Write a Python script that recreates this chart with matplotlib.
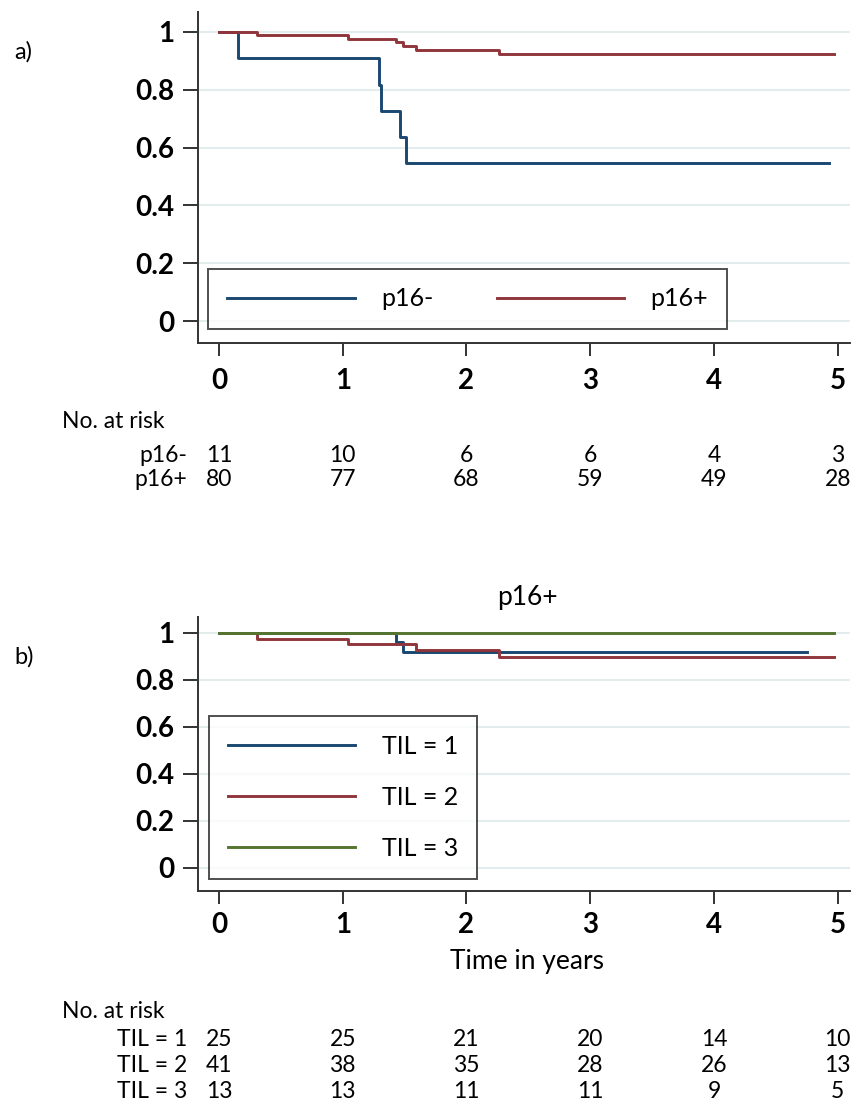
import matplotlib
matplotlib.use("Agg")
import matplotlib.pyplot as plt
from matplotlib.transforms import blended_transform_factory

plt.rcParams['font.family'] = ['Lato', 'DejaVu Sans']

# a) p16 status
p16neg_t = [0, 0.15, 1.29, 1.31, 1.46, 1.51, 4.93]
p16neg_s = [1, 0.909, 0.818, 0.727, 0.636, 0.545, 0.545]
p16pos_t = [0, 0.31, 1.04, 1.43, 1.49, 1.59, 2.26, 4.97]
p16pos_s = [1, 0.988, 0.976, 0.964, 0.952, 0.937, 0.922, 0.922]

# b) TIL within p16+
til1_t = [0, 1.43, 1.49, 4.75]
til1_s = [1, 0.96, 0.92, 0.92]
til2_t = [0, 0.31, 1.04, 1.59, 2.26, 4.97]
til2_s = [1, 0.976, 0.951, 0.927, 0.898, 0.898]
til3_t = [0, 4.97]
til3_s = [1, 1]

risk_times = [0, 1, 2, 3, 4, 5]
risk_a_labels = ['p16-', 'p16+']
risk_a = [[11, 10, 6, 6, 4, 3],
          [80, 77, 68, 59, 49, 28]]
risk_b_labels = ['TIL = 1', 'TIL = 2', 'TIL = 3']
risk_b = [[25, 25, 21, 20, 14, 10],
          [41, 38, 35, 28, 26, 13],
          [13, 13, 11, 11, 9, 5]]

navy = '#1a476f'
maroon = '#90353b'
green = '#55752f'
grid_c = '#e3edee'

W, H = 854, 1107
fig = plt.figure(figsize=(W / 100, H / 100), dpi=100)


def px_axes(left, top, right, bottom):
    return fig.add_axes([left / W, 1 - bottom / H, (right - left) / W, (bottom - top) / H])


def style(ax, ylo, yhi, xpad):
    ax.set_xlim(-0.17, 5.1)
    ax.set_ylim(ylo, yhi)
    for s in ['top', 'right']:
        ax.spines[s].set_visible(False)
    for s in ['left', 'bottom']:
        ax.spines[s].set_linewidth(1.4)
        ax.spines[s].set_color('#333333')
    ax.set_yticks([0, 0.2, 0.4, 0.6, 0.8, 1])
    ax.set_yticklabels(['0', '0.2', '0.4', '0.6', '0.8', '1'])
    ax.set_xticks(risk_times)
    ax.tick_params(axis='both', width=1.4, color='#333333', labelsize=20)
    ax.tick_params(axis='y', length=11, pad=6)
    ax.tick_params(axis='x', length=9, pad=xpad)
    for lab in ax.get_xticklabels() + ax.get_yticklabels():
        lab.set_fontweight('bold')
    for v in [0, 0.2, 0.4, 0.6, 0.8, 1]:
        ax.axhline(v, color=grid_c, lw=1.5, zorder=0)


def risk_table(ax, labels, rows, y_head, y_rows):
    tr = blended_transform_factory(ax.transData, fig.transFigure)
    fig.text(62 / W, 1 - y_head / H, 'No. at risk', fontsize=16.5, va='center', ha='left')
    for lab, row, yy in zip(labels, rows, y_rows):
        fig.text(187 / W, 1 - yy / H, lab, fontsize=16.5, va='center', ha='right')
        for t, n in zip(risk_times, row):
            ax.text(t, 1 - yy / H, str(n), transform=tr, fontsize=16.5,
                    va='center', ha='center', clip_on=False)


# ---- panel a
ax1 = px_axes(198, 12, 850, 343)
style(ax1, -0.076, 1.069, 9)
ax1.step(p16neg_t, p16neg_s, where='post', color=navy, lw=2.1, label='p16-')
ax1.step(p16pos_t, p16pos_s, where='post', color=maroon, lw=2.1, label='p16+')
leg = ax1.legend(loc='lower left', bbox_to_anchor=(0.016, 0.042), ncol=2,
                 fontsize=18, handlelength=5.1, columnspacing=2.55,
                 handletextpad=1.05, fancybox=False, edgecolor='#222222',
                 borderpad=0.75, borderaxespad=0)
leg.get_frame().set_linewidth(1.4)
risk_table(ax1, risk_a_labels, risk_a, 422, [455, 480])
fig.text(14 / W, 1 - 52 / H, 'a)', fontsize=17, va='center', ha='left')

# ---- panel b
ax2 = px_axes(198, 617, 850, 891)
style(ax2, -0.098, 1.068, 6)
ax2.step(til1_t, til1_s, where='post', color=navy, lw=2.1, label='TIL = 1')
ax2.step(til2_t, til2_s, where='post', color=maroon, lw=2.1, label='TIL = 2')
ax2.step(til3_t, til3_s, where='post', color=green, lw=2.1, label='TIL = 3')
leg2 = ax2.legend(loc='lower left', bbox_to_anchor=(0.017, 0.044), ncol=1,
                  fontsize=18, handlelength=5.1, handletextpad=1.05,
                  labelspacing=1.13, fancybox=False, edgecolor='#222222',
                  borderpad=0.75, borderaxespad=0)
leg2.get_frame().set_linewidth(1.4)
fig.text(527 / W, 1 - 597 / H, 'p16+', fontsize=19, va='center', ha='center')
fig.text(527 / W, 1 - 961 / H, 'Time in years', fontsize=19, va='center', ha='center')
risk_table(ax2, risk_b_labels, risk_b, 1011, [1040, 1066, 1092])
fig.text(14 / W, 1 - 657 / H, 'b)', fontsize=17, va='center', ha='left')

fig.savefig('out.png', dpi=100)
